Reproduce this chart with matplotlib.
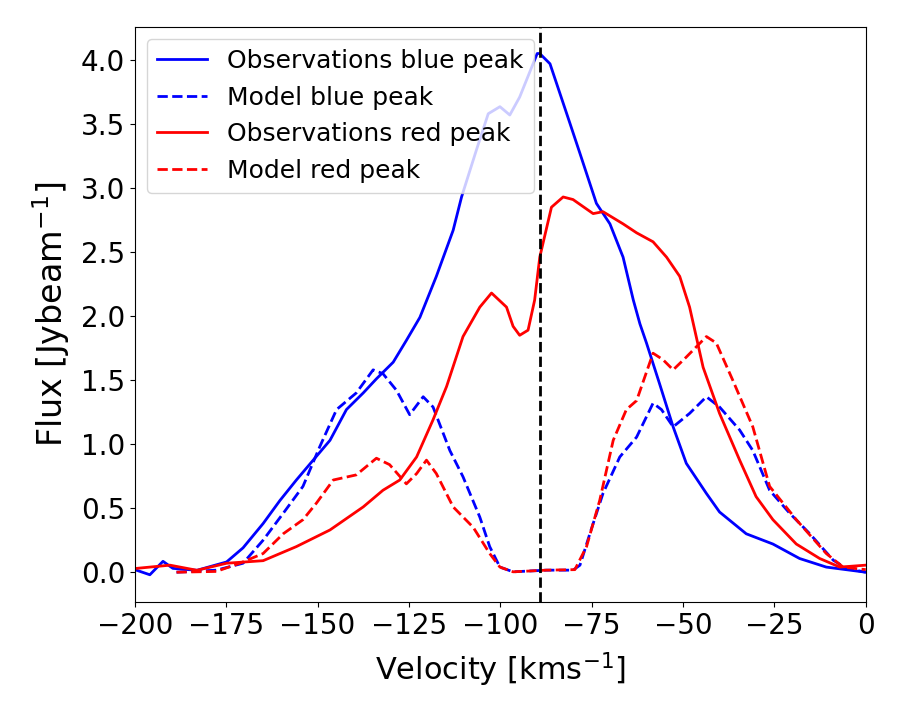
import numpy as np
import matplotlib.pyplot as plt

# observed blue peak
v_obs_blue = [-200, -195.9, -192.3, -189.6, -183, -174.9, -170.4, -164.9, -160.3, -155.8, -151.2,
              -146.6, -142.1, -137.5, -133.9, -129.3, -125.7, -122, -117.5, -112.9, -110.6, -106.5,
              -103.3, -100.1, -97.4, -94.7, -89.9, -89.2, -86.4, -83.7, -81, -78.2, -73.7, -70.0,
              -66.4, -63.6, -61.8, -60.0, -56.4, -52.7, -49.1, -43.6, -40, -32.7, -25.4, -18.1, -10.8, 0]
f_obs_blue = [0.02, -0.02, 0.085, 0.03, 0.015, 0.08, 0.19, 0.38, 0.56, 0.72, 0.875,
              1.03, 1.27, 1.40, 1.51, 1.64, 1.81, 1.99, 2.31, 2.67, 2.93, 3.30,
              3.58, 3.635, 3.57, 3.71, 4.05, 4.05, 3.97, 3.74, 3.51, 3.27, 2.88, 2.72,
              2.46, 2.125, 1.94, 1.79, 1.47, 1.135, 0.85, 0.615, 0.47, 0.30, 0.22, 0.107, 0.04, 0.0]

# model blue peak
v_mod_blue = [-188.6, -177.7, -170.4, -164.9, -159.4, -154, -149.4, -144.8, -139.4, -134.8, -132.1,
              -128.4, -124.8, -121.1, -118.4, -113.8, -110.2, -105.6, -102.9, -100.1, -96.5, -87.4,
              -80.1, -78.2, -75.5, -71.9, -67.3, -62.7, -58.2, -55.9, -52.7, -48.2, -43.6, -40,
              -34.5, -30.9, -26.3, -20.8, -15.3, -8.9, -5.3, 0]
f_mod_blue = [0.0, 0.016, 0.07, 0.25, 0.46, 0.67, 0.98, 1.27, 1.40, 1.58, 1.55,
              1.42, 1.23, 1.37, 1.29, 0.95, 0.745, 0.43, 0.2, 0.04, 0.003, 0.016,
              0.016, 0.055, 0.30, 0.615, 0.90, 1.055, 1.32, 1.27, 1.135, 1.24, 1.37, 1.29,
              1.11, 0.95, 0.64, 0.46, 0.30, 0.094, 0.03, 0.0]

# observed red peak
v_obs_red = [-200, -199.5, -190.4, -183, -174.9, -164.9, -155.8, -146.6, -137.5, -132.1, -127.5,
             -122.9, -118.4, -114.7, -110.2, -105.6, -102.4, -98.3, -96.5, -94.7, -92.4, -90.6,
             -89.2, -86.0, -82.8, -80.1, -74.6, -71.9, -66.4, -62.7, -58.2, -54.5, -50.9, -48.2,
             -44.5, -40, -34.5, -30, -25.4, -19, -12.6, -7.1, 0]
f_obs_red = [0.03, 0.03, 0.055, 0.015, 0.07, 0.09, 0.2, 0.33, 0.51, 0.64, 0.72,
             0.90, 1.19, 1.45, 1.84, 2.07, 2.18, 2.07, 1.92, 1.85, 1.89, 2.125,
             2.46, 2.85, 2.93, 2.91, 2.80, 2.815, 2.72, 2.65, 2.58, 2.46, 2.31, 2.07,
             1.60, 1.24, 0.875, 0.59, 0.41, 0.22, 0.107, 0.04, 0.055]

# model red peak
v_mod_red = [-188.6, -177.7, -171.3, -164.9, -159.4, -154, -150.3, -145.7, -139.4, -133.9, -130.3,
             -125.7, -122.9, -120.2, -117.5, -112.9, -107.4, -102.9, -100.1, -96.5, -87.4, -79.6,
             -76.4, -72.8, -69.1, -65.5, -62.7, -58.2, -55.5, -52.7, -49.1, -43.6, -40.9, -36.4,
             -30.9, -26.3, -19, -10.8, -6.2, 0]
f_mod_red = [0.0, 0.006, 0.07, 0.146, 0.30, 0.41, 0.54, 0.72, 0.76, 0.89, 0.84,
             0.69, 0.77, 0.875, 0.77, 0.51, 0.35, 0.146, 0.04, 0.003, 0.016, 0.02,
             0.2, 0.56, 1.03, 1.27, 1.34, 1.71, 1.66, 1.58, 1.68, 1.84, 1.79, 1.5,
             1.135, 0.67, 0.41, 0.146, 0.04, 0.02]

v_sys = -89

fig = plt.figure(figsize=(8.99, 7.2), dpi=100)
ax = fig.add_axes([0.150, 0.164, 0.813, 0.799])
ax.plot(v_obs_blue, f_obs_blue, c='b', lw=2, label="Observations blue peak")
ax.plot(v_mod_blue, f_mod_blue, c='b', lw=2, ls='--', label="Model blue peak")
ax.plot(v_obs_red, f_obs_red, c='r', lw=2, label="Observations red peak")
ax.plot(v_mod_red, f_mod_red, c='r', lw=2, ls='--', label="Model red peak")
ax.axvline(v_sys, c='k', lw=2, ls='--')
ax.set_xlim(-200, 0)
ax.set_ylim(-0.232, 4.26)
ax.set_xlabel(r"Velocity [kms$^{-1}$]", fontsize=22, labelpad=8)
ax.set_ylabel(r"Flux [Jybeam$^{-1}$]", fontsize=24, labelpad=6)
ax.tick_params(labelsize=20)
ax.legend(loc='upper left', fontsize=18)

fig.savefig("out.png", dpi=100)
